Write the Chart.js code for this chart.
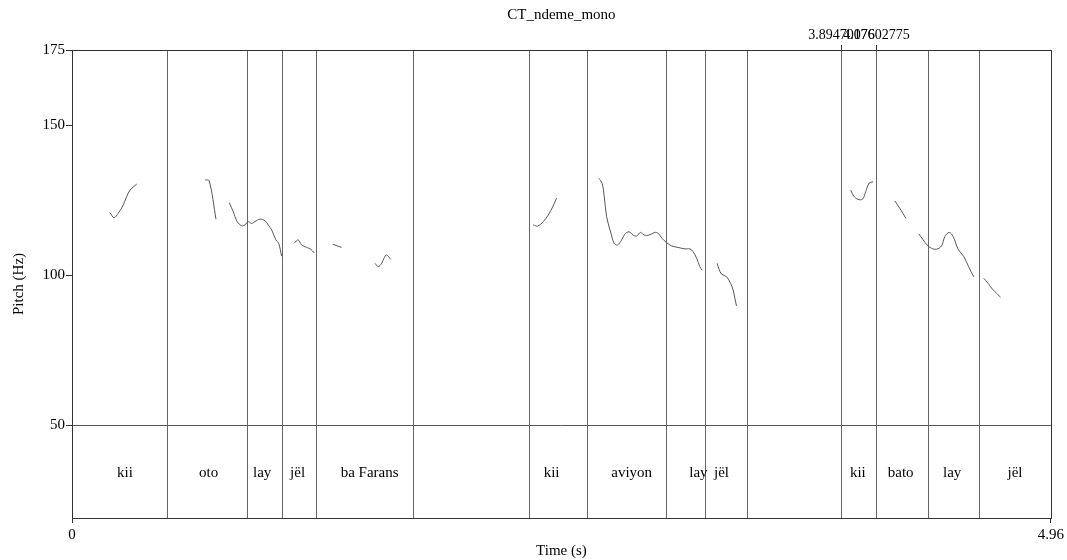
<!DOCTYPE html>
<html>
<head>
<meta charset="utf-8">
<script src="https://cdn.jsdelivr.net/npm/chart.js@4.4.0/dist/chart.umd.min.js"></script>
<style>
html, body { margin: 0; padding: 0; background: #fff; }
#wrap { width: 1067px; height: 560px; }
</style>
</head>
<body>
<div id="wrap"><canvas id="pitch" width="1067" height="560"></canvas></div>
<script>
const SERIF = '"Liberation Serif", "Times New Roman", serif';

// pitch contour pieces as [time (s), pitch (Hz)]
const kii1 = [[0.1925, 120.8], [0.2128, 119.1], [0.2345, 120.6], [0.2568, 123.0], [0.2771, 126.1], [0.2938, 128.3], [0.3278, 130.3]];
const oto1 = [[0.675, 131.7], [0.6955, 131.4], [0.7295, 118.6]];
const oto2 = [[0.797, 124.1], [0.817, 121.1], [0.837, 117.8], [0.860, 116.4], [0.876, 116.7], [0.893, 117.8], [0.910, 117.2], [0.927, 117.8],
              [0.952, 118.6], [0.978, 118.1], [0.994, 116.7], [1.012, 115.0], [1.033, 111.7], [1.047, 110.6], [1.062, 106.3]];
const jel1 = [[1.126, 110.6], [1.146, 111.7], [1.164, 110.0], [1.189, 109.2], [1.209, 108.6], [1.227, 107.4]];
const ba1 = [[1.321, 110.3], [1.344, 109.7], [1.366, 109.2]];
const farans1 = [[1.535, 103.9], [1.552, 102.8], [1.569, 103.9], [1.581, 105.6], [1.594, 106.7], [1.615, 105.2]];
const kii2 = [[2.337, 116.7], [2.359, 116.3], [2.388, 117.8], [2.413, 120.0], [2.438, 123.0], [2.455, 125.6]];
const aviyon2 = [[2.670, 132.2], [2.686, 130.6], [2.697, 126.1], [2.709, 119.4], [2.731, 113.9], [2.747, 110.6], [2.764, 110.0],
                 [2.785, 111.7], [2.801, 113.6], [2.823, 114.4], [2.843, 113.3], [2.861, 113.0], [2.881, 114.2], [2.899, 113.3],
                 [2.923, 113.3], [2.953, 114.2], [2.970, 113.9], [2.990, 112.2], [3.013, 110.8], [3.038, 109.7], [3.071, 109.2],
                 [3.105, 108.7], [3.131, 108.7], [3.147, 107.8], [3.165, 105.6], [3.181, 102.8], [3.193, 101.6]];
const jel2 = [[3.269, 103.9], [3.279, 101.9], [3.291, 100.3], [3.317, 99.4], [3.337, 97.2], [3.350, 95.0], [3.359, 92.2], [3.367, 89.7]];
const kii3 = [[3.946, 128.3], [3.961, 126.3], [3.983, 125.2], [4.006, 125.3], [4.022, 127.8], [4.039, 130.6], [4.059, 131.1]];
const bato3 = [[4.169, 124.7], [4.195, 122.2], [4.225, 118.9]];
const lay3 = [[4.291, 113.7], [4.313, 111.7], [4.333, 110.0], [4.355, 108.9], [4.381, 108.6], [4.406, 109.7], [4.423, 112.8],
              [4.445, 114.2], [4.465, 112.8], [4.490, 108.6], [4.519, 106.1], [4.543, 102.8], [4.569, 99.4]];
const jel3 = [[4.620, 98.9], [4.642, 97.2], [4.665, 95.2], [4.685, 93.9], [4.705, 92.6]];

const pitchPieces = [kii1, oto1, oto2, jel1, ba1, farans1, kii2, aviyon2, jel2, kii3, bato3, lay3, jel3];

// text grid tier
const boundaryTimes = [0.4813, 0.8866, 1.0639, 1.2362, 1.7276, 2.3153, 2.6092, 3.0094, 3.2070, 3.4198,
                       3.89470176, 4.07602775, 4.3368, 4.5952];
const tierLabels = ['kii', 'oto', 'lay', 'jël', 'ba Farans', 'kii', 'aviyon', 'lay', 'jël', 'kii', 'bato', 'lay', 'jël'];
const tierLabelTimes = [0.2685, 0.692, 0.9636, 1.143, 1.508, 2.430, 2.836, 3.174, 3.291, 3.982, 4.199, 4.460, 4.778];
const markedTimes = [3.89470176, 4.07602775];
const markedTexts = ['3.89470176', '4.07602775'];

const yTicks = [50, 100, 150, 175];
const xTicks = [0, 4.96];

const decor = {
    id: 'decor',
    beforeDatasetsDraw(chart) {
        const { ctx, chartArea: a, scales: { x, y } } = chart;
        ctx.save();
        ctx.strokeStyle = '#666';
        ctx.lineWidth = 1;
        boundaryTimes.forEach(t => {
            const px = Math.round(x.getPixelForValue(t)) + 0.5;
            ctx.beginPath();
            ctx.moveTo(px, a.top);
            ctx.lineTo(px, a.bottom);
            ctx.stroke();
        });
        ctx.fillStyle = '#000';
        ctx.font = '15px ' + SERIF;
        ctx.textAlign = 'center';
        ctx.textBaseline = 'middle';
        tierLabels.forEach((lab, i) => {
            ctx.fillText(lab, x.getPixelForValue(tierLabelTimes[i]), y.getPixelForValue(34));
        });
        ctx.restore();
    },
    afterDraw(chart) {
        const { ctx, chartArea: a, scales: { x } } = chart;
        ctx.save();
        ctx.strokeStyle = '#333';
        ctx.lineWidth = 1;
        ctx.strokeRect(Math.round(a.left) + 0.5, Math.round(a.top) + 0.5,
                       Math.round(a.right - a.left), Math.round(a.bottom - a.top));
        ctx.fillStyle = '#000';
        ctx.textAlign = 'center';
        ctx.textBaseline = 'middle';
        ctx.font = '15px ' + SERIF;
        ctx.fillText('CT_ndeme_mono', (a.left + a.right) / 2, 15);
        ctx.font = '14px ' + SERIF;
        markedTimes.forEach((t, i) => {
            const px = Math.round(x.getPixelForValue(t)) + 0.5;
            ctx.beginPath();
            ctx.moveTo(px, a.top - 5);
            ctx.lineTo(px, a.top);
            ctx.stroke();
            ctx.fillText(markedTexts[i], px, a.top - 15);
        });
        ctx.restore();
    }
};

new Chart(document.getElementById('pitch').getContext('2d'), {
    type: 'scatter',
    data: {
        datasets: pitchPieces.map(piece => ({
            data: piece.map(p => ({ x: p[0], y: p[1] })),
            showLine: true,
            borderColor: '#555',
            borderWidth: 1,
            pointRadius: 0,
            tension: 0.35
        }))
    },
    options: {
        responsive: false,
        animation: false,
        layout: { padding: { top: 50, right: 16, left: 0, bottom: 0 } },
        plugins: { legend: { display: false }, tooltip: { enabled: false } },
        scales: {
            x: {
                type: 'linear',
                min: 0,
                max: 4.96,
                afterBuildTicks: s => { s.ticks = xTicks.map(v => ({ value: v })); },
                afterFit: s => { s.height = 42; },
                border: { display: false },
                grid: { drawOnChartArea: false, tickLength: 5, tickColor: '#333' },
                ticks: { autoSkip: false, maxRotation: 0, padding: 3, color: '#000',
                         font: { family: SERIF, size: 15 }, callback: v => String(v) },
                title: { display: true, text: 'Time (s)', color: '#000', padding: 0,
                         font: { family: SERIF, size: 15 } }
            },
            y: {
                min: 19,
                max: 175,
                afterBuildTicks: s => { s.ticks = yTicks.map(v => ({ value: v })); },
                afterFit: s => { s.width = 72; },
                border: { display: false },
                grid: { color: c => (c.tick && c.tick.value === 50 ? '#555' : 'rgba(0,0,0,0)'),
                        tickLength: 6, tickColor: '#333' },
                ticks: { autoSkip: false, padding: 1, color: '#000',
                         font: { family: SERIF, size: 15 }, callback: v => String(v) },
                title: { display: true, text: 'Pitch (Hz)', color: '#000', padding: { top: 10, bottom: 0 },
                         font: { family: SERIF, size: 15 } }
            }
        }
    },
    plugins: [decor]
});
</script>
</body>
</html>
